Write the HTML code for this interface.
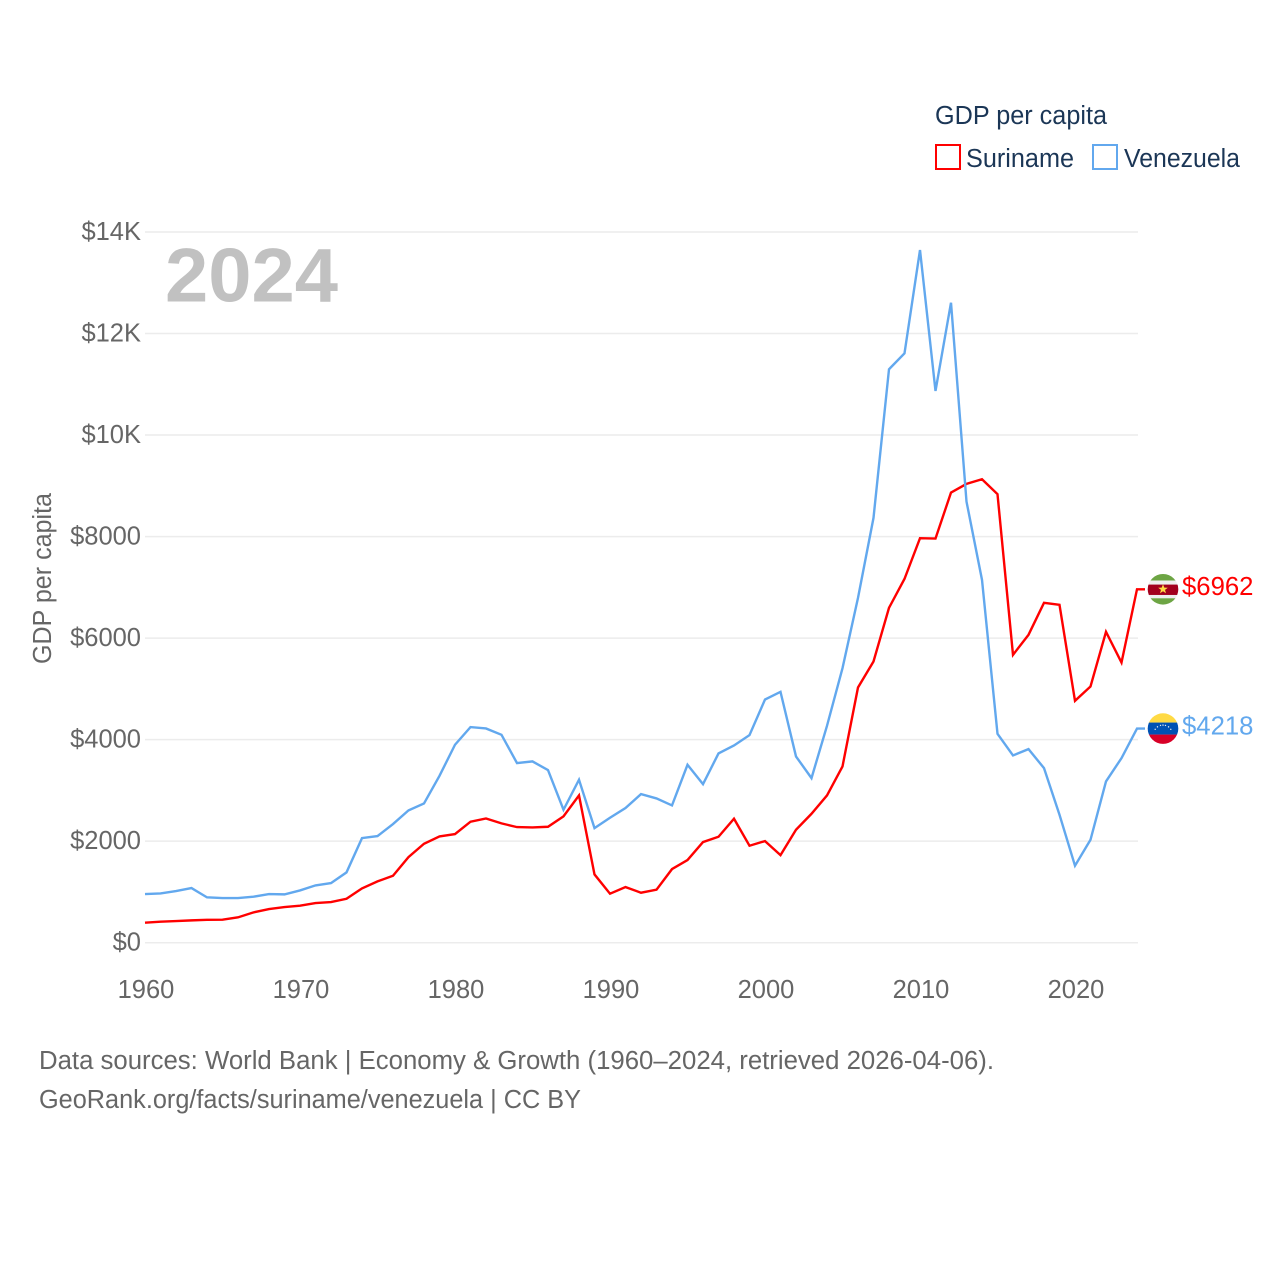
<!DOCTYPE html>
<html lang="en">
<head>
<meta charset="utf-8">
<title>GDP per capita: Suriname and Venezuela</title>
<style>
  html, body { margin: 0; padding: 0; background: #fff; }
  svg { display: block; }
  text { font-family: "Liberation Sans", sans-serif; }
</style>
</head>
<body>
<svg id="chart" xmlns="http://www.w3.org/2000/svg" width="1280" height="1280" viewBox="0 0 1280 1280">
  <rect x="0" y="0" width="1280" height="1280" fill="#ffffff"/>

  <g id="grid"></g>
  <g id="y-ticks"></g>
  <g id="x-ticks"></g>

  <text transform="translate(51 664) rotate(-90)" font-size="25.5" fill="#666666" textLength="171" lengthAdjust="spacingAndGlyphs">GDP per capita</text>

  <text x="165" y="301.5" font-size="76" font-weight="700" fill="#c1c1c1" textLength="173" lengthAdjust="spacingAndGlyphs">2024</text>

  <g id="series"></g>
  <g id="end-markers"></g>

  <g>
    <text x="935" y="124" font-size="25.5" fill="#1b3656" textLength="172" lengthAdjust="spacingAndGlyphs">GDP per capita</text>
    <g>
      <rect x="936" y="145" width="24" height="24" fill="none" stroke="#ff0000" stroke-width="2"/>
      <text x="966" y="167" font-size="25.5" fill="#1b3656" textLength="108" lengthAdjust="spacingAndGlyphs">Suriname</text>
    </g>
    <g>
      <rect x="1093" y="145" width="24" height="24" fill="none" stroke="#62a8ee" stroke-width="2"/>
      <text x="1124" y="167" font-size="25.5" fill="#1b3656" textLength="116" lengthAdjust="spacingAndGlyphs">Venezuela</text>
    </g>
  </g>

  <g>
    <text x="39" y="1069" font-size="25.5" fill="#666666" textLength="955" lengthAdjust="spacingAndGlyphs">Data sources: World Bank | Economy &amp; Growth (1960–2024, retrieved 2026-04-06).</text>
    <text x="39" y="1108" font-size="25.5" fill="#666666" textLength="542" lengthAdjust="spacingAndGlyphs">GeoRank.org/facts/suriname/venezuela | CC BY</text>
  </g>
</svg>

<script>
const years = [1960,1961,1962,1963,1964,1965,1966,1967,1968,1969,
  1970,1971,1972,1973,1974,1975,1976,1977,1978,1979,
  1980,1981,1982,1983,1984,1985,1986,1987,1988,1989,
  1990,1991,1992,1993,1994,1995,1996,1997,1998,1999,
  2000,2001,2002,2003,2004,2005,2006,2007,2008,2009,
  2010,2011,2012,2013,2014,2015,2016,2017,2018,2019,
  2020,2021,2022,2023,2024];
const suriname = [394,413,427,440,450,453,499,597,663,702,
  729,781,801,866,1070,1208,1319,1687,1949,2094,
  2140,2383,2448,2350,2277,2271,2284,2488,2901,1345,
  965,1096,985,1044,1450,1628,1982,2087,2442,1910,
  2002,1726,2225,2540,2901,3472,5028,5540,6596,7167,
  7968,7961,8867,9038,9130,8835,5671,6065,6695,6655,
  4765,5047,6124,5519,6962];
const venezuela = [958,971,1017,1076,893,879,879,906,958,952,
  1030,1129,1175,1385,2061,2100,2337,2606,2743,3288,
  3899,4247,4220,4096,3538,3571,3400,2619,3210,2258,
  2461,2652,2927,2842,2704,3505,3124,3728,3885,4089,
  4791,4942,3669,3242,4273,5408,6793,8368,11296,11611,
  13645,10869,12608,8690,7148,4115,3689,3814,3439,2520,
  1516,2028,3177,3636,4218];
const yTickValues = [0,2000,4000,6000,8000,10000,12000,14000];
const yTickLabels = ["$0","$2000","$4000","$6000","$8000","$10K","$12K","$14K"];
const xTickValues = [1960,1970,1980,1990,2000,2010,2020];
const xTickLabels = ["1960","1970","1980","1990","2000","2010","2020"];

const NS = "http://www.w3.org/2000/svg";
function xScale(year) { return 145 + (year - 1960) * 15.5; }
function yScale(value) { return 942.7 - value * (942.7 - 232) / 14000; }
function make(tag, parent) {
  const el = document.createElementNS(NS, tag);
  parent.appendChild(el);
  return el;
}

const gridGroup = document.getElementById("grid");
const yGroup = document.getElementById("y-ticks");
const xGroup = document.getElementById("x-ticks");
const seriesGroup = document.getElementById("series");
const markerGroup = document.getElementById("end-markers");

yTickValues.forEach(function (v, i) {
  const line = make("line", gridGroup);
  
  
  line.setAttribute("x1", 145);
  line.setAttribute("x2", 1138);
  line.setAttribute("y1", yScale(v));
  line.setAttribute("y2", yScale(v));
  line.setAttribute("stroke", "#ececec");
  line.setAttribute("stroke-width", 1.5);

  const label = make("text", yGroup);
  
  
  label.setAttribute("x", 141);
  label.setAttribute("y", yScale(v) + 8);
  label.setAttribute("text-anchor", "end");
  label.setAttribute("font-size", 25.5);
  label.setAttribute("fill", "#666666");
  label.textContent = yTickLabels[i];
});

xTickValues.forEach(function (v, i) {
  const label = make("text", xGroup);
  
  
  label.setAttribute("x", xScale(v) + 1);
  label.setAttribute("y", 998);
  label.setAttribute("text-anchor", "middle");
  label.setAttribute("font-size", 25.5);
  label.setAttribute("fill", "#666666");
  label.textContent = xTickLabels[i];
});

function linePoints(values) {
  const pts = values.map(function (v, i) { return xScale(years[i]) + "," + yScale(v); });
  const lastIndex = values.length - 1;
  pts.push((xScale(years[lastIndex]) + 8) + "," + yScale(values[lastIndex]));
  return pts.join(" ");
}

const surinameLine = make("polyline", seriesGroup);


surinameLine.setAttribute("points", linePoints(suriname));
surinameLine.setAttribute("fill", "none");
surinameLine.setAttribute("stroke", "#ff0000");
surinameLine.setAttribute("stroke-width", 2.4);
surinameLine.setAttribute("stroke-linejoin", "miter");

const venezuelaLine = make("polyline", seriesGroup);


venezuelaLine.setAttribute("points", linePoints(venezuela));
venezuelaLine.setAttribute("fill", "none");
venezuelaLine.setAttribute("stroke", "#62a8ee");
venezuelaLine.setAttribute("stroke-width", 2.4);
venezuelaLine.setAttribute("stroke-linejoin", "miter");

function band(parent, y, h, color) {
  const r = make("rect", parent);
  
  
  r.setAttribute("x", -15.5);
  r.setAttribute("y", y);
  r.setAttribute("width", 31);
  r.setAttribute("height", h);
  r.setAttribute("fill", color);
}

// Circular clip shared by both flags, in each flag's local coordinates.
const defs = make("defs", markerGroup);
const clip = make("clipPath", defs);
clip.setAttribute("id", "flag-clip");
const clipCircle = make("circle", clip);
clipCircle.setAttribute("r", 15.3);

const lastYear = years[years.length - 1];
const flagX = xScale(lastYear) + 26;
const labelX = xScale(lastYear) + 45;

// Suriname end marker
const surinameLast = suriname[suriname.length - 1];
const surinameFlag = make("g", markerGroup);


surinameFlag.setAttribute("transform", "translate(" + flagX + " " + yScale(surinameLast) + ")");
surinameFlag.setAttribute("clip-path", "url(#flag-clip)");
band(surinameFlag, -16, 7.3, "#6da544");
band(surinameFlag, -8.7, 4, "#eeeeee");
band(surinameFlag, -4.7, 10.4, "#a2001d");
band(surinameFlag, 5.7, 3.3, "#eeeeee");
band(surinameFlag, 9, 7, "#6da544");
const star = make("polygon", surinameFlag);


star.setAttribute("points", "0,-5 1.3,-1.6 4.8,-1.5 2,0.6 3,4 0,2 -3,4 -2,0.6 -4.8,-1.5 -1.3,-1.6");
star.setAttribute("fill", "#ffda44");

const surinameValue = make("text", markerGroup);


surinameValue.setAttribute("x", labelX);
surinameValue.setAttribute("y", yScale(surinameLast) + 5.7);
surinameValue.setAttribute("font-size", 25.7);
surinameValue.setAttribute("fill", "#ff0000");
surinameValue.textContent = "$" + surinameLast;

// Venezuela end marker
const venezuelaLast = venezuela[venezuela.length - 1];
const venezuelaFlag = make("g", markerGroup);


venezuelaFlag.setAttribute("transform", "translate(" + flagX + " " + yScale(venezuelaLast) + ")");
venezuelaFlag.setAttribute("clip-path", "url(#flag-clip)");
band(venezuelaFlag, -16, 10, "#ffda44");
band(venezuelaFlag, -6, 12, "#0052b4");
band(venezuelaFlag, 6, 10, "#d80027");
[-150, -128, -106, -90, -74, -52, -30].forEach(function (angle) {
  const dot = make("circle", venezuelaFlag);
  
  
  dot.setAttribute("cx", 9 * Math.cos(angle * Math.PI / 180));
  dot.setAttribute("cy", 5 + 8.5 * Math.sin(angle * Math.PI / 180));
  dot.setAttribute("r", 0.7);
  dot.setAttribute("fill", "#eeeeee");
});

const venezuelaValue = make("text", markerGroup);


venezuelaValue.setAttribute("x", labelX);
venezuelaValue.setAttribute("y", yScale(venezuelaLast) + 5.7);
venezuelaValue.setAttribute("font-size", 25.7);
venezuelaValue.setAttribute("fill", "#62a8ee");
venezuelaValue.textContent = "$" + venezuelaLast;
</script>
</body>
</html>
